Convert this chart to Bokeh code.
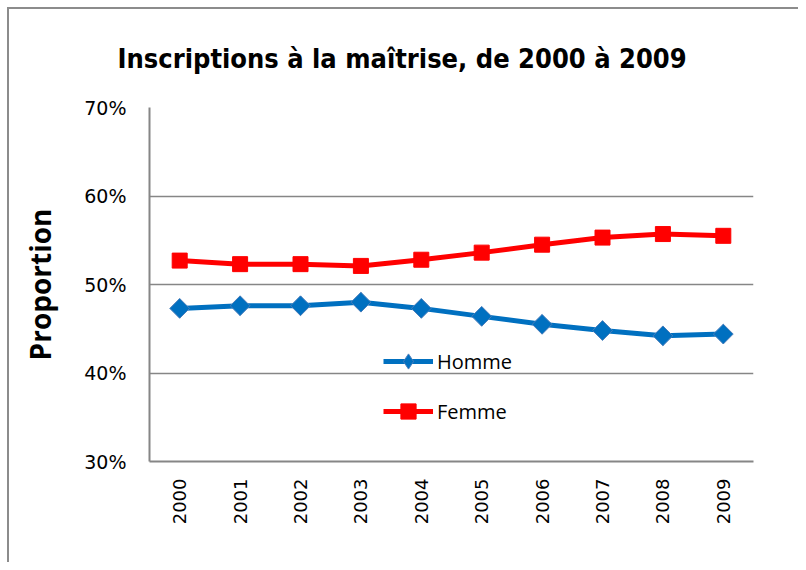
import numpy as np
from bokeh.plotting import figure
from bokeh.models import (FactorRange, Range1d, NumeralTickFormatter, FixedTicker,
                          ColumnDataSource, Legend, LegendItem)
from bokeh.embed import file_html
from bokeh.resources import INLINE

years = ["2000", "2001", "2002", "2003", "2004", "2005", "2006", "2007", "2008", "2009"]
homme = [0.473, 0.476, 0.476, 0.480, 0.473, 0.464, 0.455, 0.448, 0.442, 0.444]
femme = [0.527, 0.523, 0.523, 0.521, 0.528, 0.536, 0.545, 0.553, 0.557, 0.555]
y_ticks = [0.3, 0.4, 0.5, 0.6, 0.7]

title_text = "Inscriptions à la maîtrise, de 2000 à 2009"

src = ColumnDataSource(dict(year=years, homme=homme, femme=femme))

GRAY = "#868686"
BORDER = "#8c8c8c"
BLUE = "#0070C0"
RED = "#FF0000"

p = figure(
    width=798, height=562,
    x_range=FactorRange(*years), y_range=Range1d(0.3, 0.7),
    output_backend="svg", toolbar_location=None,
    min_border_left=149, min_border_right=45, min_border_top=107, min_border_bottom=101,
    title=title_text,
)

# chart border (top and left edges visible), drawn behind a transparent canvas
p.styles = {
    "background-color": "white",
    "background-image": f"linear-gradient({BORDER},{BORDER}), linear-gradient({BORDER},{BORDER})",
    "background-size": "100% 2px, 2px 100%",
    "background-position": "7px 7px, 7px 7px",
    "background-repeat": "no-repeat",
}
p.border_fill_alpha = 0
p.background_fill_color = "white"

p.title.text_font = "'Liberation Sans Narrow', 'DejaVu Sans Condensed', sans-serif"
p.title.text_font_style = "bold"
p.title.text_font_size = "27px"
p.title.align = "left"
p.title.offset = -32
p.title.standoff = 67
p.title.text_color = "black"

p.outline_line_color = None

# y axis
p.yaxis.ticker = FixedTicker(ticks=y_ticks)
p.yaxis.formatter = NumeralTickFormatter(format="0%")
p.yaxis.major_tick_line_color = None
p.yaxis.minor_tick_line_color = None
p.yaxis.axis_line_color = GRAY
p.yaxis.axis_line_width = 2
p.yaxis.major_label_text_font = "DejaVu Sans"
p.yaxis.major_label_text_font_size = "19px"
p.yaxis.major_label_text_color = "black"
p.yaxis.major_label_standoff = 17
p.yaxis.axis_label = "Proportion"
p.yaxis.axis_label_text_font = "Open Sans"
p.yaxis.axis_label_text_font_style = "bold"
p.yaxis.axis_label_text_font_size = "28px"
p.yaxis.axis_label_text_color = "black"
p.yaxis.axis_label_standoff = 22

# x axis
p.xaxis.major_tick_line_color = None
p.xaxis.minor_tick_line_color = None
p.xaxis.axis_line_color = GRAY
p.xaxis.axis_line_width = 2
p.xaxis.major_label_orientation = np.pi / 2
p.xaxis.major_label_text_font = "DejaVu Sans"
p.xaxis.major_label_text_font_size = "18px"
p.xaxis.major_label_text_color = "black"
p.xaxis.major_label_standoff = 11

p.xgrid.grid_line_color = None
p.ygrid.grid_line_color = GRAY
p.ygrid.grid_line_width = 1.5

l_h = p.line("year", "homme", source=src, color=BLUE, line_width=5)
# diamond renderer (fully covered by the rotated squares on the plot; used for the legend symbol)
d_h = p.scatter("year", "homme", source=src, marker="diamond", size=19,
                fill_color=BLUE, line_color="#4a7ebb", line_width=1)
p.scatter("year", "homme", source=src, marker="square", angle=np.pi / 4, size=14,
          fill_color=BLUE, line_color="#4a7ebb", line_width=1)
l_f = p.line("year", "femme", source=src, color=RED, line_width=5)
s_f = p.scatter("year", "femme", source=src, marker="square", size=15,
                fill_color=RED, line_color=RED)

lg = Legend(items=[LegendItem(label="Homme", renderers=[l_h, d_h]),
                   LegendItem(label="Femme", renderers=[l_f, s_f])])
lg.location = (234, 31)
lg.background_fill_alpha = 0
lg.border_line_alpha = 0
lg.padding = 0
lg.margin = 0
lg.spacing = 12
lg.glyph_width = 50
lg.glyph_height = 38
lg.label_height = 38
lg.label_standoff = 4
lg.label_text_font = "Open Sans"
lg.label_text_font_size = "20px"
lg.label_text_color = "black"
p.add_layout(lg, "center")

open("out.html", "w").write(file_html(p, INLINE))
